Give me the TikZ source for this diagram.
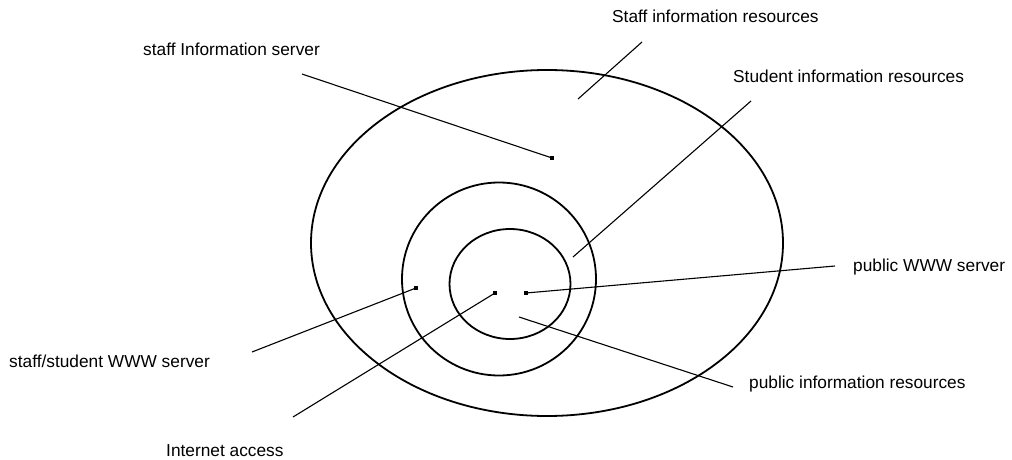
\documentclass[tikz,border=0pt]{standalone}
\usepackage{fontspec}
\setmainfont{Liberation Sans}
\usetikzlibrary{shapes.geometric}
\begin{document}
\begin{tikzpicture}[x=1pt,y=-1pt,
  zone/.style={draw, ellipse, line width=1.8pt, inner sep=0pt},
  spot/.style={rectangle, fill=black, minimum size=4.8pt, inner sep=0pt},
  leader/.style={line width=1.1pt},
  caption/.style={anchor=base west, inner sep=0pt, font=\fontsize{17.3}{20}\selectfont}]
\useasboundingbox[fill=white] (0,0) rectangle (1012,460);

% nested resource zones
\node[zone, minimum width=472pt, minimum height=346pt] (staffzone) at (547,243) {};
\node[zone, minimum width=194pt, minimum height=193pt] (studentzone) at (499,279) {};
\node[zone, minimum width=121pt, minimum height=110pt] (publiczone) at (510,284) {};

% servers and access points
\node[spot] (staffsrv) at (552,158) {};
\node[spot] (sswww) at (416,288) {};
\node[spot] (inet) at (495,293) {};
\node[spot] (pubwww) at (526,293) {};

% captions
\node[caption] (lstaffres) at (612,23) {Staff information resources};
\node[caption] (lstaffsrv) at (143,56) {staff Information server};
\node[caption] (lstudres) at (733,82) {Student information resources};
\node[caption] (lpubwww) at (853,271) {public WWW server};
\node[caption] (lsswww) at (9,367) {staff/student WWW server};
\node[caption] (lpubres) at (749,388) {public information resources};
\node[caption] (linet) at (166,456) {Internet access};

% free ends of the leader lines
\coordinate (staffsrvend) at (302,74);
\coordinate (staffresA) at (578,99);
\coordinate (staffresB) at (642,42);
\coordinate (studresA) at (573,257);
\coordinate (studresB) at (751,101);
\coordinate (pubwwwend) at (835,266);
\coordinate (pubresA) at (519,317);
\coordinate (pubresB) at (733,387);
\coordinate (sswwwend) at (252,352);
\coordinate (inetend) at (293,417);

% leader lines
\draw[leader] (staffsrv.center) -- (staffsrvend);
\draw[leader] (staffresA) -- (staffresB);
\draw[leader] (studresA) -- (studresB);
\draw[leader] (pubwww.center) -- (pubwwwend);
\draw[leader] (pubresA) -- (pubresB);
\draw[leader] (sswww.center) -- (sswwwend);
\draw[leader] (inet.center) -- (inetend);
\end{tikzpicture}
\end{document}
